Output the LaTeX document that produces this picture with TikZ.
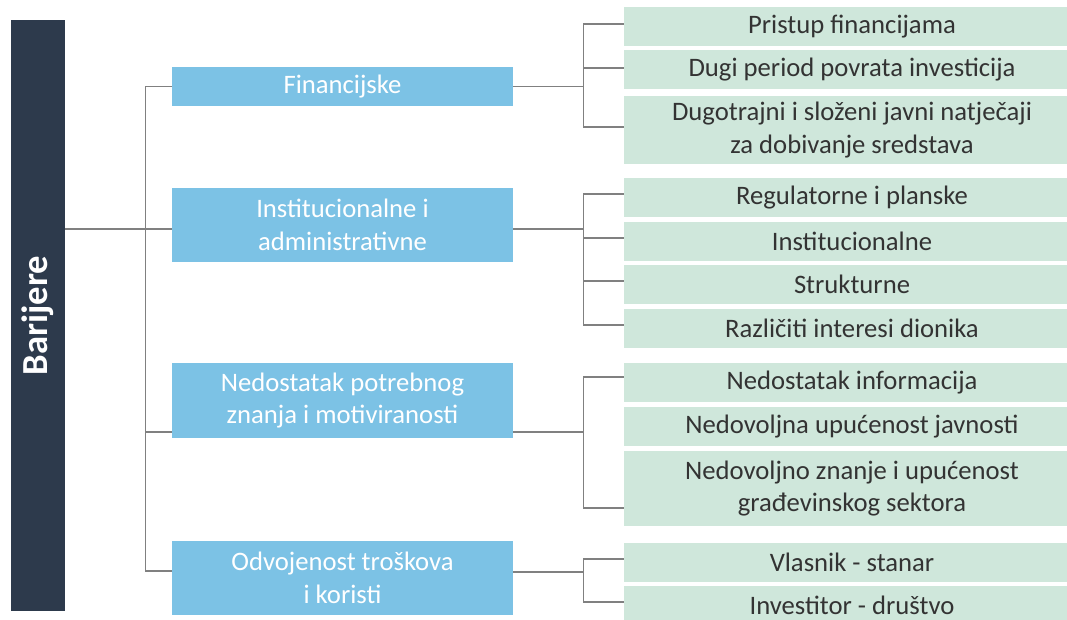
\documentclass[tikz,border=0pt]{standalone}
\usepackage{fontspec}
\setmainfont{Carlito}
\usetikzlibrary{calc,positioning}

\definecolor{barcolor}{HTML}{2D3A4C}
\definecolor{groupcolor}{HTML}{7CC2E5}
\definecolor{itemcolor}{HTML}{CFE7DB}
\definecolor{textgray}{HTML}{333333}
\definecolor{linegray}{HTML}{808080}

\begin{document}
\begin{tikzpicture}
[
	x	= 0.75pt,	% one unit is one pixel of the reference
	y	= -0.75pt,	% y runs downwards, as in the reference
	main/.style	= {fill=barcolor, text=white, font=\bfseries\fontsize{27.5}{32}\selectfont, minimum width=40.5pt, minimum height=443.25pt, inner sep=0pt},
	group/.style	= {fill=groupcolor, text=white, font=\fontsize{20}{24.3}\selectfont, align=center, minimum width=255.75pt, inner sep=0pt},
	item/.style	= {fill=itemcolor, text=textgray, font=\fontsize{20}{24.3}\selectfont, align=center, minimum width=342pt, minimum height=29.25pt, inner sep=0pt},
	conn/.style	= {draw=linegray, line width=0.8pt},
]

\useasboundingbox (0,0) rectangle (1067,620);

% main bar
\node [main] (bar) at (38,315.5) {\rotatebox{90}{Barijere}};

% groups
\node [group, minimum height=29.25pt] (fin) at (342.5,86.5) {Financijske};
\node [group, minimum height=55.5pt] (inst) at (342.5,225) {Institucionalne i\\administrativne};
\node [group, minimum height=56.25pt] (know) at (342.5,400.5) {Nedostatak potrebnog\\znanja i motiviranosti};
\node [group, minimum height=55.5pt] (split) at (342.5,578) {Odvojenost troškova\\i koristi};

% items
\node [item] (g1) at (852,26.5) {Pristup financijama};
\node [item] (g2) at (852,70) {Dugi period povrata investicija};
\node [item, minimum height=51pt] (g3) at (852,130) {Dugotrajni i složeni javni natječaji\\za dobivanje sredstava};
\node [item] (g4) at (852,197.5) {Regulatorne i planske};
\node [item] (g5) at (852,241.5) {Institucionalne};
\node [item] (g6) at (852,284.5) {Strukturne};
\node [item] (g7) at (852,328) {Različiti interesi dionika};
\node [item] (g8) at (852,382.5) {Nedostatak informacija};
\node [item] (g9) at (852,426.5) {Nedovoljna upućenost javnosti};
\node [item, minimum height=56.25pt] (g10) at (852,488.5) {Nedovoljno znanje i upućenost\\građevinskog sektora};
\node [item] (g11) at (852,562) {Vlasnik - stanar};
\node [item] (g12) at (852,605.5) {Investitor - društvo};

% left trunk
\draw [conn] ($(bar.east)+(0,-86.5)$) -- ($(inst.west)+(0,4)$);
\draw [conn] (fin.west) -| ($(split.west)+(-26,-7)$) -- ($(split.west)+(0,-7)$);
\draw [conn] ($(know.west)+(0,31.5)$) -- ++(-26,0);

% right forks
\draw [conn] (fin.east) -- ++(70,0) coordinate (f1);
\draw [conn] ($(g1.west)+(0,-2.5)$) -| (f1) |- ($(g3.west)+(0,-3)$);
\draw [conn] ($(g2.west)+(0,-2)$) -- ($(g2.west -| f1)+(0,-2)$);

\draw [conn] ($(inst.east)+(0,4)$) -- ++(70,0) coordinate (f2);
\draw [conn] ($(g4.west)+(0,-3.5)$) -| (f2) |- ($(g7.west)+(0,-3)$);
\foreach \g in {g5,g6}
	\draw [conn] ($(\g.west)+(0,-3.5)$) -- ($(\g.west -| f2)+(0,-3.5)$);

\draw [conn] ($(know.east)+(0,31.5)$) -- ++(70,0) coordinate (f3);
\draw [conn] ($(g8.west)+(0,-5.5)$) -| (f3) |- ($(g10.west)+(0,19.5)$);

\draw [conn] ($(split.east)+(0,-6)$) -- ++(70,0) coordinate (f4);
\draw [conn] ($(g11.west)+(0,-3)$) -| (f4) |- ($(g12.west)+(0,-3.5)$);

\end{tikzpicture}
\end{document}
